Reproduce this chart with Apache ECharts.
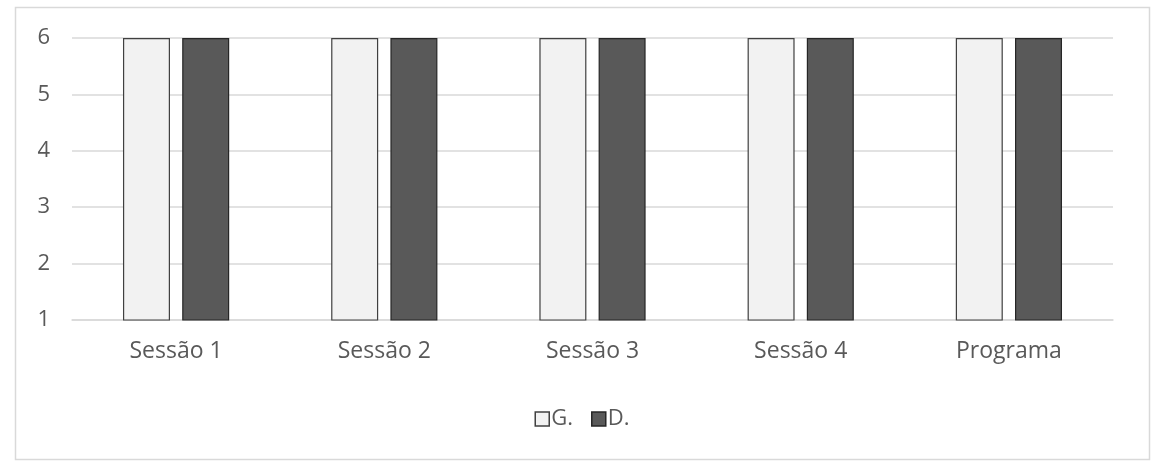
<!DOCTYPE html>
<html lang="pt">
<head>
    <meta charset="UTF-8">
    <title>Sessões</title>
    <script src="https://cdn.jsdelivr.net/npm/echarts@6/dist/echarts.min.js"></script>
    <style>
        html, body { margin: 0; padding: 0; background: #fff; }
        #chartmain { width: 1164px; height: 462px; }
    </style>
</head>
<body>
<div id="chartmain"></div>
<script type="text/javascript">
    // dados
    var categorias = ['Sessão 1', 'Sessão 2', 'Sessão 3', 'Sessão 4', 'Programa'];
    var valoresG = [6, 6, 6, 6, 6];
    var valoresD = [6, 6, 6, 6, 6];

    var fonte = 'Open Sans';
    var myChart = echarts.init(document.getElementById('chartmain'));
    myChart.setOption({
        animation: false,
        backgroundColor: '#fff',
        graphic: [{
            type: 'rect',
            left: 13, top: 5,
            shape: { width: 1134, height: 452 },
            style: { fill: 'none', stroke: '#d9d9d9', lineWidth: 1.5 }
        }],
        grid: { left: 72, right: 51, top: 38, bottom: 142, containLabel: false },
        legend: {
            top: 403,
            left: 'center',
            icon: 'rect',
            itemWidth: 14,
            itemHeight: 14,
            itemGap: 18,
            itemStyle: { borderWidth: 1.5 },
            textStyle: { fontFamily: fonte, fontSize: 22, color: '#595959', padding: [0, 0, 0, -3] },
            data: ['G.', 'D.']
        },
        xAxis: {
            type: 'category',
            data: categorias,
            axisLine: { lineStyle: { color: '#d9d9d9', width: 1.5 } },
            axisTick: { show: false },
            axisLabel: { fontFamily: fonte, fontSize: 23, color: '#595959', margin: 20 }
        },
        yAxis: {
            type: 'value',
            min: 1,
            max: 6,
            interval: 1,
            axisLine: { show: false },
            axisTick: { show: false },
            axisLabel: { fontFamily: fonte, fontSize: 22, color: '#595959', margin: 22 },
            splitLine: { lineStyle: { color: '#d9d9d9', width: 1.5 } }
        },
        series: [{
            name: 'G.',
            type: 'bar',
            data: valoresG,
            barWidth: 47,
            barGap: '26%',
            itemStyle: { color: '#f2f2f2', borderColor: '#404040', borderWidth: 1.2 }
        }, {
            name: 'D.',
            type: 'bar',
            data: valoresD,
            barWidth: 47,
            itemStyle: { color: '#595959', borderColor: '#262626', borderWidth: 1.2 }
        }]
    });
</script>
</body>
</html>
